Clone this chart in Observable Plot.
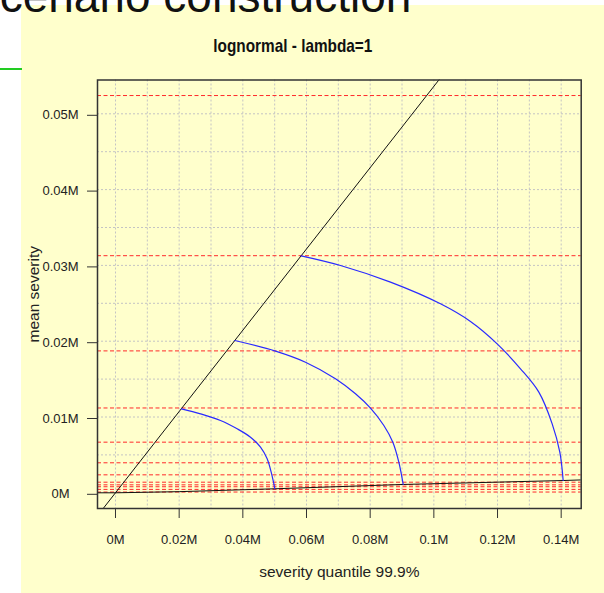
<!DOCTYPE html>
<html>
<head>
<meta charset="utf-8">
<script src="https://cdn.jsdelivr.net/npm/d3@7"></script>
<script src="https://cdn.jsdelivr.net/npm/@observablehq/plot@0.6"></script>
<style>
  html, body { margin: 0; padding: 0; background: #ffffff; width: 604px; height: 593px; overflow: hidden; }
  #panel { position: absolute; left: 21px; top: 5px; width: 583px; height: 588px; background: #ffffcc; }
  #slideTitle { position: absolute; left: -31px; top: -27px; font-family: "Liberation Sans", Arial, sans-serif; font-size: 46px; line-height: 46px; color: #111; white-space: nowrap; }
  #greenLine { position: absolute; left: 0; top: 68px; width: 22px; height: 2px; background: #22cc22; }
  #chart { position: absolute; left: 0; top: 0; }
</style>
</head>
<body>
<div id="panel"></div>
<div id="greenLine"></div>
<div id="slideTitle">Scenario construction</div>
<div id="chart"></div>
<script>
// ---- data ----
const chartTitle = "lognormal - lambda=1";
const xLabel = "severity quantile 99.9%";
const yLabel = "mean severity";

const xTicks = [0, 20000, 40000, 60000, 80000, 100000, 120000, 140000];
const xTickLabels = ["0M", "0.02M", "0.04M", "0.06M", "0.08M", "0.1M", "0.12M", "0.14M"];
const yTicks = [0, 10000, 20000, 30000, 40000, 50000];
const yTickLabels = ["0M", "0.01M", "0.02M", "0.03M", "0.04M", "0.05M"];

const xGrid = [0, 10000, 20000, 30000, 40000, 50000, 60000, 70000, 80000, 90000, 100000, 110000, 120000, 130000, 140000];
const yGrid = [5000, 10000, 15000, 20000, 25000, 30000, 35000, 40000, 45000, 50000];

// red dashed levels (mean severity)
const redLevels = [52410, 31280, 18720, 11190, 6680, 3960, 2370, 1400, 1050, 800, 450, 100];

// diagonal black line
const diagX = [-4500, 105000];
const diagY = [-2410, 56300];

// near-horizontal black curve
const baseX = [-5654, 0, 20000, 50050, 90370, 140600, 146300];
const baseY = [0, 0, 150, 530, 1100, 1620, 1700];

// blue arcs
const arc1X = [20700, 26700, 32980, 38220, 42410, 45550, 47640, 48900, 49630, 50050];
const arc1Y = [11080, 10420, 9540, 8440, 7340, 6020, 4480, 2720, 1400, 530];
const arc2X = [37480, 50260, 59680, 69110, 75390, 80100, 84290, 87120, 89000, 90370];
const arc2Y = [20090, 18690, 17230, 15040, 13060, 11170, 8880, 6680, 4040, 1100];
const arc3X = [58300, 70680, 86380, 102090, 111510, 119890, 127220, 132980, 137170, 139570, 140620];
const arc3Y = [31260, 29990, 27790, 24930, 22600, 19650, 16360, 13280, 9100, 5360, 1620];

// ---- build tables ----
const zip = (xs, ys, k) => xs.map((x, i) => ({x, y: ys[i], k}));
const arcs = [...zip(arc1X, arc1Y, "a1"), ...zip(arc2X, arc2Y, "a2"), ...zip(arc3X, arc3Y, "a3")];
const diag = zip(diagX, diagY, "d");
const base = zip(baseX, baseY, "b");

const font = "'Liberation Sans', Arial, sans-serif";

const chart = Plot.plot({
  width: 604,
  height: 593,
  marginLeft: 97,
  marginRight: 23.3,
  marginTop: 79.5,
  marginBottom: 85,
  style: {background: "transparent", fontFamily: font, fontSize: "13px", color: "#222"},
  x: {domain: [-5654, 146287]},
  y: {domain: [-2071, 54459]},
  marks: [
    Plot.ruleX(xGrid, {stroke: "#c4c4c4", strokeDasharray: "2,2", strokeWidth: 1}),
    Plot.ruleY(yGrid, {stroke: "#c4c4c4", strokeDasharray: "2,2", strokeWidth: 1}),
    Plot.ruleY(redLevels, {stroke: "#ff2a2a", strokeDasharray: "4,2.5", strokeWidth: 1}),
    Plot.line(base, {x: "x", y: "y", stroke: "#111", strokeWidth: 1, clip: true}),
    Plot.line(diag, {x: "x", y: "y", stroke: "#111", strokeWidth: 1, clip: true}),
    Plot.line(arcs, {x: "x", y: "y", z: "k", stroke: "#2a2aff", strokeWidth: 1.2, curve: "catmull-rom"}),
    Plot.frame({stroke: "#333", strokeWidth: 1.5}),
    Plot.axisX({ticks: xTicks, tickSize: 10, tickPadding: 16, stroke: "#333", fill: "#222", fontSize: 13,
      tickFormat: d => xTickLabels[xTicks.indexOf(d)], label: null}),
    Plot.axisY({ticks: yTicks, tickSize: 10, tickPadding: 27, stroke: "#333", fill: "#222", fontSize: 13,
      textAnchor: "middle", dy: 1.5,
      tickFormat: d => yTickLabels[yTicks.indexOf(d)], label: null}),
    Plot.text([xLabel], {frameAnchor: "bottom", lineAnchor: "middle", textAnchor: "middle", dy: 64, fontSize: 15.5, fill: "#222"}),
    Plot.text([yLabel], {frameAnchor: "left", lineAnchor: "middle", textAnchor: "middle", dx: -63, rotate: -90, fontSize: 15.5, fill: "#222"}),
    Plot.text([chartTitle], {frameAnchor: "top", lineAnchor: "middle", textAnchor: "middle", dx: -46.5, dy: -33.5, fontSize: 18.5,
      fontWeight: "bold", fill: "#111"})
  ]
});
// condense the title like the reference's narrow bold face
chart.querySelectorAll("text").forEach(t => {
  if (t.textContent === chartTitle) {
    t.setAttribute("textLength", "159");
    t.setAttribute("lengthAdjust", "spacingAndGlyphs");
  }
});
document.getElementById("chart").appendChild(chart);
</script>
</body>
</html>
